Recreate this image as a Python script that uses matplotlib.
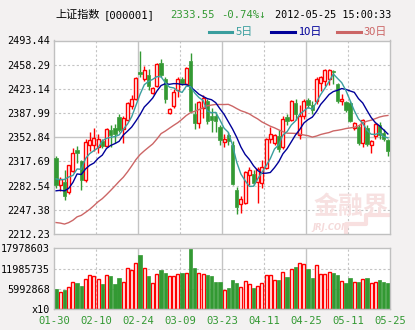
import numpy as np
import matplotlib
matplotlib.use('Agg')
import matplotlib.pyplot as plt
from matplotlib.lines import Line2D

# daily bars, 2012-01-30 .. 2012-05-25
opens = [2323, 2284, 2288, 2273, 2304, 2334, 2318, 2290, 2342, 2341,
         2338, 2348, 2340, 2364, 2366, 2382, 2365, 2378, 2398, 2408,
         2448, 2437, 2444, 2417, 2428, 2461, 2437, 2388, 2398, 2421,
         2438, 2430, 2463, 2386, 2373, 2396, 2406, 2384, 2384, 2368,
         2346, 2356, 2341, 2276, 2256, 2258, 2298, 2300, 2288, 2286,
         2308, 2350, 2344, 2354, 2338, 2382, 2378, 2402, 2356, 2384,
         2407, 2400, 2405, 2431, 2434, 2438, 2449, 2430, 2406, 2404,
         2403, 2367, 2368, 2345, 2367, 2342, 2354, 2370, 2359, 2349]
highs = [2326, 2295, 2305, 2313, 2337, 2340, 2320, 2350, 2360, 2367,
         2357, 2351, 2367, 2370, 2372, 2386, 2383, 2404, 2414, 2440,
         2478, 2456, 2452, 2426, 2461, 2467, 2440, 2395, 2423, 2440,
         2440, 2455, 2475, 2402, 2406, 2414, 2409, 2395, 2389, 2370,
         2357, 2360, 2348, 2281, 2268, 2304, 2309, 2305, 2309, 2320,
         2352, 2368, 2358, 2363, 2383, 2386, 2407, 2409, 2400, 2408,
         2410, 2406, 2441, 2442, 2452, 2452, 2451, 2432, 2415, 2406,
         2406, 2375, 2370, 2380, 2370, 2349, 2373, 2375, 2365, 2351]
lows = [2279, 2274, 2262, 2271, 2302, 2316, 2276, 2288, 2333, 2333,
        2330, 2337, 2338, 2339, 2345, 2360, 2345, 2376, 2394, 2407,
        2440, 2434, 2422, 2415, 2426, 2440, 2403, 2386, 2396, 2412,
        2429, 2429, 2388, 2365, 2367, 2381, 2372, 2361, 2360, 2341,
        2338, 2341, 2283, 2242, 2243, 2256, 2284, 2283, 2257, 2279,
        2306, 2344, 2342, 2332, 2336, 2371, 2376, 2378, 2350, 2380,
        2396, 2387, 2401, 2420, 2428, 2429, 2430, 2403, 2400, 2390,
        2375, 2363, 2342, 2339, 2340, 2330, 2351, 2351, 2347, 2325]
closes = [2283, 2292.6, 2268.1, 2312.6, 2330.4, 2330, 2290, 2346, 2349, 2351.8,
          2351, 2340, 2365, 2356, 2357, 2363, 2381, 2403, 2409, 2439,
          2445, 2450, 2427, 2424, 2459, 2443, 2408, 2394, 2419, 2437,
          2432, 2453, 2391, 2373, 2404, 2410, 2377, 2378, 2376, 2349,
          2350, 2347, 2285, 2252, 2263, 2302, 2305, 2286, 2306, 2309,
          2351, 2357, 2356, 2336, 2380, 2376, 2405, 2386, 2384, 2405,
          2400, 2393, 2437, 2440, 2450, 2450, 2447, 2405, 2409, 2393,
          2377, 2373, 2345, 2378, 2343, 2347, 2372, 2356, 2351, 2333.55]
# closes of the 29 sessions before 01-30, needed for the moving averages
prior_closes = [2315.3, 2311.0, 2248.2, 2228.5, 2180.9, 2224.8, 2218.2, 2215.1,
                2191.0, 2180.9, 2204.9, 2190.6, 2170.0, 2165.9, 2163.4, 2199.4,
                2169.4, 2148.5, 2163.4, 2225.9, 2285.7, 2276.0, 2276.1, 2244.6,
                2206.2, 2298.4, 2266.2, 2294.9, 2319.1]
volumes = [5.92, 4.95, 5.63, 6.42, 7.90, 7.60, 6.80, 8.90, 10.07, 9.77,
           8.90, 7.40, 10.07, 9.77, 7.40, 9.27, 7.90, 12.23, 11.55, 13.50,
           16.00, 12.23, 9.77, 7.60, 10.27, 11.55, 10.75, 9.77, 9.77, 10.27,
           10.75, 10.57, 17.978603, 12.23, 10.57, 10.27, 10.07, 9.77, 7.90, 7.90,
           5.63, 6.32, 8.59, 7.60, 6.52, 8.29, 7.31, 6.32, 6.81, 7.60,
           10.07, 10.07, 8.59, 8.59, 10.86, 9.48, 11.85, 12.44, 13.53, 13.23,
           11.85, 9.28, 13.03, 10.27, 10.27, 10.86, 10.56, 10.07, 8.29, 7.60,
           9.28, 8.00, 8.00, 8.89, 9.18, 7.60, 8.00, 8.59, 8.00, 7.70]  # millions
date_labels = ['01-30', '02-10', '02-24', '03-09', '03-23', '04-11', '04-25', '05-11', '05-25']
price_ticks = [2212.23, 2247.38, 2282.54, 2317.69, 2352.84, 2387.99, 2423.14, 2458.29, 2493.44]
vol_ticks = [0, 5992868, 11985735, 17978603]
vol_tick_labels = ['x10', '5992868', '11985735', '17978603']

RED = '#ff0000'
GREEN = '#339933'
C5, C10, C30 = '#3a9e9e', '#000099', '#cc6666'
GRID = '#c4c4c4'
MONO = ['DejaVu Sans Mono', 'DejaVu Sans']
CJK = ['Noto Sans CJK SC', 'DejaVu Sans']

o = np.array(opens, float); h = np.array(highs, float)
l = np.array(lows, float); c = np.array(closes, float)
v = np.array(volumes) * 1e6
n = len(c)
x = np.arange(n)
up = c >= o

allc = np.concatenate([prior_closes, c])
def ma(k):
    return np.convolve(allc, np.ones(k) / k, mode='valid')[-n:]

W, H = 415, 330
fig = plt.figure(figsize=(W / 100, H / 100), dpi=100, facecolor='#f3f1f1')
ax = fig.add_axes([54 / W, 1 - 234 / H, 336 / W, 193.5 / H])
vax = fig.add_axes([54 / W, 1 - 309 / H, 336 / W, 60.7 / H])

for a in (ax, vax):
    a.set_facecolor('white')
    a.set_xlim(-0.5, n - 0.5)
    for s in a.spines.values():
        s.set_color('#c0c0c0')
        s.set_linewidth(1)
    a.tick_params(length=0, labelsize=7.3, pad=3)
    for k in range(1, 8):
        xx = -0.5 + 10 * k
        if k % 2 == 0:
            a.axvline(xx, color=GRID, lw=1, zorder=0)
        else:
            a.axvline(xx, color=GRID, lw=0.8, ls=(0, (2, 2)), zorder=0)

# price panel
ax.set_ylim(price_ticks[0], price_ticks[-1])
ax.set_yticks(price_ticks)
ax.set_yticklabels(['%.2f' % t for t in price_ticks], family=MONO)
ax.set_xticks([])
for i, t in enumerate(price_ticks[1:-1], 1):
    if i == 4:
        ax.axhline(t, color=GRID, lw=1, zorder=0)
    else:
        ax.axhline(t, color=GRID, lw=0.8, ls=(0, (2, 2)), zorder=0)

# watermark
ax.text(0.995, 0.14, '金融界', transform=ax.transAxes, ha='right', va='center',
        fontsize=18, family=CJK, weight='bold', color='#f7e1e1', zorder=0.5)
ax.text(0.77, 0.035, 'JRJ.COM', transform=ax.transAxes, ha='left', va='center',
        fontsize=6, family=['DejaVu Sans'], weight='bold', style='italic',
        color='#f5dada', zorder=0.5)
ax.plot([0.87, 0.87, 0.93, 0.93, 0.995], [0.0, 0.05, 0.05, 0.1, 0.1],
        transform=ax.transAxes, color='#f8e0e0', lw=3, zorder=0.5)

body = np.maximum(np.abs(c - o), 0.8)
bot = np.minimum(o, c)
top = bot + body
cols = np.where(up, RED, GREEN)
ax.vlines(x, l, bot, colors=cols, lw=1, zorder=2)
ax.vlines(x, top, h, colors=cols, lw=1, zorder=2)
ax.bar(x[up], body[up], bottom=bot[up], width=0.7, facecolor='white',
       edgecolor=RED, lw=1, zorder=3)
ax.bar(x[~up], body[~up], bottom=bot[~up], width=0.85, facecolor=GREEN,
       edgecolor=GREEN, lw=0.5, zorder=3)

ax.plot(x, ma(30), color=C30, lw=1, zorder=4)
ax.plot(x, ma(10), color=C10, lw=1, zorder=4)
ax.plot(x, ma(5), color=C5, lw=1, zorder=4)

# volume panel
vax.set_ylim(0, vol_ticks[-1])
vax.set_yticks(vol_ticks)
vax.set_yticklabels(vol_tick_labels, family=MONO)
for t in vol_ticks[1:3]:
    vax.axhline(t, color=GRID, lw=0.8, ls=(0, (2, 2)), zorder=0)
vax.set_xticks([-0.5 + 10 * k for k in range(9)])
vax.set_xticklabels(date_labels, family=MONO, color=GREEN, fontsize=7.6)
vax.tick_params(axis='x', pad=5)
vax.bar(x[up], v[up], width=0.7, facecolor='white', edgecolor=RED, lw=1, zorder=2)
vax.bar(x[~up], v[~up], width=0.85, facecolor=GREEN, edgecolor=GREEN, lw=0.5, zorder=2)

# header
def ftext(px, py, s, **kw):
    fig.text(px / W, 1 - py / H, s, va='center', ha='left', **kw)

ftext(55, 15, '上证指数', family=CJK, fontsize=8, color='black')
ftext(104, 15, '[000001]', family=MONO, fontsize=7.6, color='black')
ftext(170, 15, '2333.55', family=MONO, fontsize=7.6, color=GREEN)
ftext(221, 15, '-0.74%↓', family=MONO, fontsize=7.6, color=GREEN)
ftext(275, 15, '2012-05-25 15:00:33', family=MONO, fontsize=7.3, color='black')

for x0, x1, tx, lab, col in [(209, 232, 236, '5日', C5),
                             (271, 295, 298, '10日', C10),
                             (337, 361, 364, '30日', C30)]:
    fig.add_artist(Line2D([x0 / W, x1 / W], [1 - 32 / H, 1 - 32 / H], color=col, lw=2.2))
    ftext(tx, 32.5, lab, family=CJK, fontsize=8, color=col)

fig.savefig('out.png', dpi=100, facecolor=fig.get_facecolor())
